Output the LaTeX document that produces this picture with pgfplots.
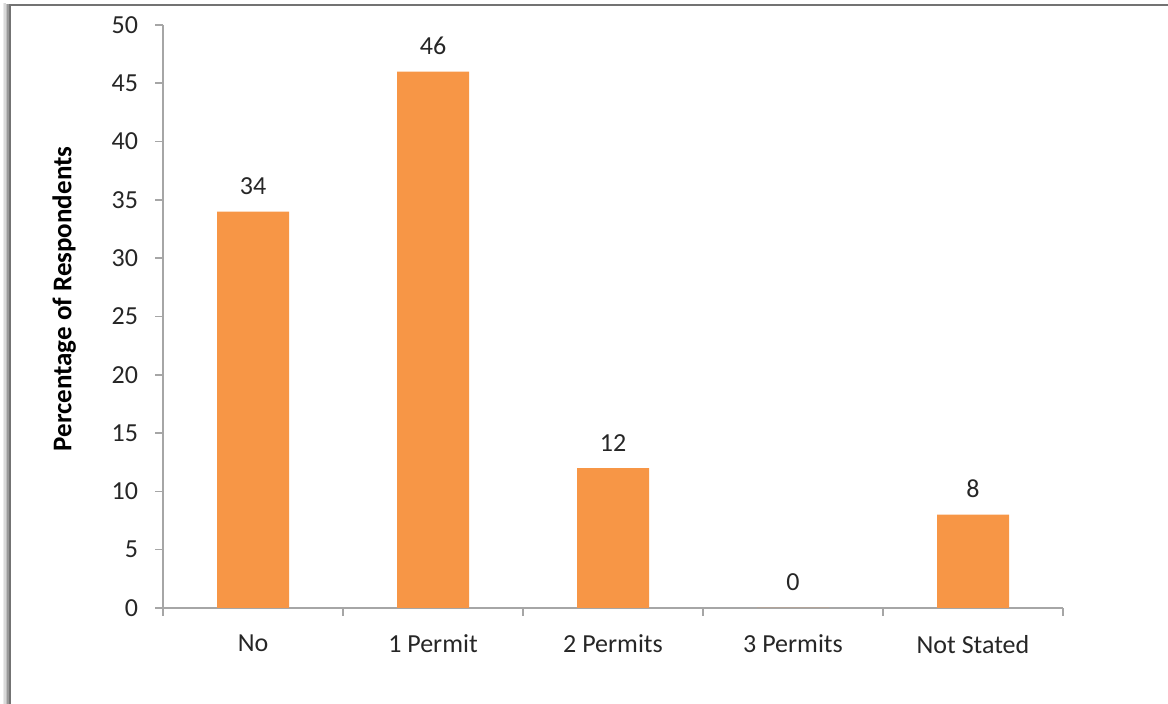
\documentclass[border=0pt]{standalone}
\usepackage{fontspec}
\setmainfont{Carlito}
\usepackage{pgfplots}
\pgfplotsset{compat=1.18}
\definecolor{barorange}{HTML}{F79646}
\definecolor{axgray}{HTML}{A6A6A6}
\definecolor{txt}{HTML}{262626}
\begin{document}
\begin{tikzpicture}[x=1pt,y=1pt]
\path[use as bounding box] (0,0) rectangle (584,352);
% frame with soft shadow
\foreach \i/\c in {4/8,3/15,2/25,1/40}{
  \draw[line width=1pt, black!\c] (5-\i*0.8,-5) -- (5-\i*0.8,349.5+\i*0.3);
}
\draw[line width=1.3pt, black!55] (5,-5) -- (5,349.5) -- (600,349.5);
\begin{axis}[
  at={(81.5pt,48pt)}, anchor=south west,
  scale only axis, width=450pt, height=291.5pt,
  xmin=-0.5, xmax=4.5, ymin=0, ymax=50,
  axis x line*=bottom, axis y line*=left,
  axis line style={axgray, line width=0.8pt, -},
  ytick={0,5,...,50},
  xtick={0,1,2,3,4},
  xticklabels={No,1 Permit,2 Permits,3 Permits,Not Stated},
  major x tick style={draw=none},
  minor xtick={-0.5,0.5,1.5,2.5,3.5,4.5},
  tick align=outside,
  tick style={axgray, line width=0.8pt},
  major tick length=4pt, minor tick length=4pt,
  every tick label/.append style={font=\fontsize{13}{15}\selectfont, text=txt},
  yticklabel style={xshift=-5pt},
  xticklabel style={yshift=-6pt},
  ylabel={\textbf{Percentage of Respondents}},
  ylabel style={font=\fontsize{13.5}{15}\selectfont, text=black, at={(ticklabel cs:0.53)}, yshift=11pt},
  /pgf/number format/assume math mode=true,
  ybar, bar width=36pt,
  nodes near coords,
  every node near coord/.append style={font=\fontsize{13}{15}\selectfont, text=txt, yshift=5pt},
  clip=false,
]
\addplot[fill=barorange, draw=none] coordinates {(0,34) (1,46) (2,12) (3,0) (4,8)};
\end{axis}
\end{tikzpicture}
\end{document}
